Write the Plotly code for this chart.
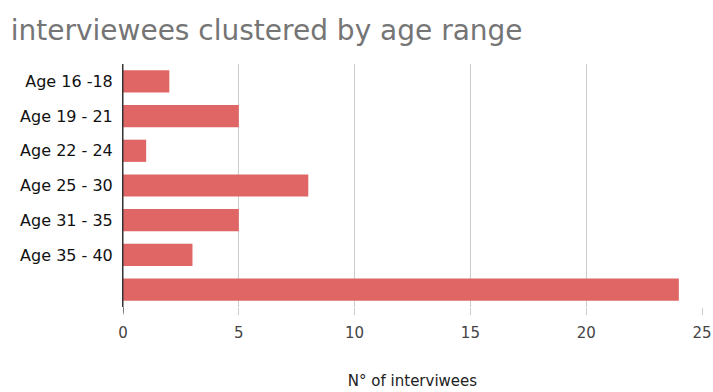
import plotly.graph_objects as go

categories = ["Age 16 -18", "Age 19 - 21", "Age 22 - 24", "Age 25 - 30", "Age 31 - 35", "Age 35 - 40", " "]
values = [2, 5, 1, 8, 5, 3, 24]
x_ticks = [0, 5, 10, 15, 20, 25]

fig = go.Figure(go.Bar(
    x=values, y=categories, orientation="h",
    marker=dict(color="#e06666", line=dict(width=0)),
))

fig.update_layout(
    width=713, height=392,
    margin=dict(l=123, r=11, t=64, b=85, autoexpand=False),
    paper_bgcolor="white", plot_bgcolor="white",
    bargap=0.36,
    showlegend=False,
    title=dict(text="interviewees clustered by age range", x=0.015, xanchor="left",
               y=0.922, yanchor="middle",
               font=dict(family="DejaVu Sans, sans-serif", size=28, color="#757575")),
    font=dict(family="DejaVu Sans, sans-serif", size=12, color="#222222"),
)
fig.update_xaxes(
    range=[0, 25], tickvals=x_ticks, ticktext=[str(t) for t in x_ticks],
    automargin=False,
    showgrid=True, gridcolor="#cccccc", gridwidth=1, zeroline=False,
    ticks="outside", ticklen=7, tickcolor="#cccccc",
    ticklabelstandoff=5,
    tickfont=dict(family="DejaVu Sans, sans-serif", size=15, color="#444444"),
    title=dict(text="N° of interviwees", font=dict(family="DejaVu Sans, sans-serif", size=15, color="#222222"), standoff=34),
)
fig.update_yaxes(
    categoryorder="array", categoryarray=categories, autorange="reversed",
    automargin=False,
    showgrid=False, showline=True, linecolor="#333333", linewidth=1,
    ticks="", ticklabelstandoff=6,
    tickfont=dict(family="DejaVu Sans, sans-serif", size=16, color="#111111"),
)
fig.add_shape(type="line", xref="x", yref="paper", x0=0, x1=0, y0=-0.025, y1=1,
              line=dict(color="#333333", width=1))

fig.write_html("out.html")
